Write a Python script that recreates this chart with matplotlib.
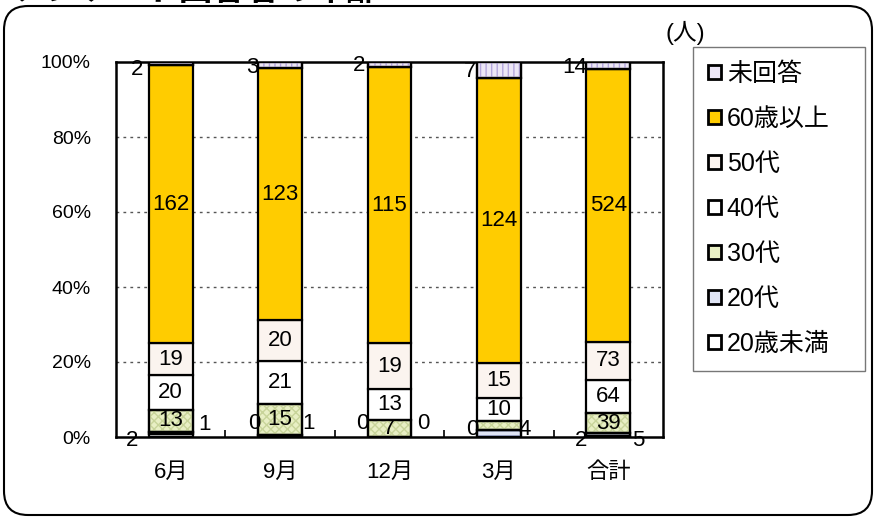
import matplotlib
matplotlib.use("Agg")
import matplotlib.pyplot as plt
import matplotlib.patches as mpatches
import numpy as np

plt.rcParams['font.family'] = ['Liberation Sans', 'Noto Sans CJK JP', 'DejaVu Sans']
plt.rcParams['hatch.linewidth'] = 1.0

months = ["6月", "9月", "12月", "3月", "合計"]
groups = ["20歳未満", "20代", "30代", "40代", "50代", "60歳以上", "未回答"]
u20 = [2, 0, 0, 0, 2]
s20 = [1, 1, 0, 3, 5]
s30 = [13, 15, 7, 4, 39]
s40 = [20, 21, 13, 10, 64]
s50 = [19, 20, 19, 15, 73]
s60 = [162, 123, 115, 124, 524]
na = [2, 3, 2, 7, 14]

series = [u20, s20, s30, s40, s50, s60, na]
faces = ["white", "#dfe4f4", "#e8efc4", "white", "#fbf4ef", "#ffcc00", "#ece6f6"]
hatches = [None, "---", "xxxx", None, None, None, "|||"]
hatch_cols = [None, "#8c98c8", "#c8d49a", None, None, None, "#b4a6dc"]

fig = plt.figure(figsize=(8.77, 5.18), dpi=100)
ax = fig.add_axes([116 / 877, 81 / 518, 547 / 877, 375 / 518])

vals = np.array(series, dtype=float)
totals = vals.sum(axis=0)
shares = vals / totals
x = np.arange(len(months))
w = 0.4

bottom = np.zeros(len(months))
for i in range(len(groups)):
    ax.bar(x, shares[i], w, bottom=bottom, color=faces[i], edgecolor="black",
           linewidth=1.6, zorder=3)
    if hatches[i]:
        ax.bar(x, shares[i], w, bottom=bottom, fill=False, hatch=hatches[i],
               edgecolor=hatch_cols[i], linewidth=0, zorder=3.5)
        ax.bar(x, shares[i], w, bottom=bottom, fill=False, edgecolor="black",
               linewidth=1.6, zorder=3.6)
    bottom += shares[i]

fs = 16
cum = np.cumsum(shares, axis=0)
# centred labels for the big segments (30代..60歳以上)
for i in [2, 3, 4, 5]:
    for j in range(len(months)):
        if i == 2 and j == 3:
            continue
        mid = cum[i, j] - shares[i, j] / 2
        ax.text(x[j], mid, str(series[i][j]), ha="center", va="center",
                fontsize=fs, zorder=5)

# small segments placed beside the bar
left_dx = [-0.35, -0.24, -0.25, -0.24, -0.25]
left_y = [-0.008, 0.037, 0.037, 0.019, -0.008]
right_dx = [0.31, 0.26, 0.31, 0.24, 0.27]
right_y = [0.032, 0.037, 0.037, 0.019, -0.008]
top_dx = [-0.31, -0.25, -0.28, -0.26, -0.31]
top_y = [0.981, 0.985, 0.99, 0.975, 0.985]
for j in range(len(months)):
    ax.text(x[j] + left_dx[j], left_y[j], str(u20[j]), ha="center", va="center",
            fontsize=fs, zorder=5)
    rlab = s30[j] if j == 3 else s20[j]
    ax.text(x[j] + right_dx[j], right_y[j], str(rlab), ha="center", va="center",
            fontsize=fs, zorder=5)
    ax.text(x[j] + top_dx[j], top_y[j], str(na[j]), ha="center", va="center",
            fontsize=fs, zorder=5)

ax.set_xlim(-0.5, len(months) - 0.5)
ax.set_ylim(0, 1)
ax.set_yticks([0, 0.2, 0.4, 0.6, 0.8, 1.0])
ax.set_yticklabels(["0%", "20%", "40%", "60%", "80%", "100%"], fontsize=14)
ax.tick_params(axis="y", length=0, pad=18)
ax.set_xticks(x)
ax.set_xticklabels(months, fontsize=16)
ax.tick_params(axis="x", which="major", length=0, pad=18)
ax.set_xticks(np.arange(0.5, len(months) - 1, 1), minor=True)
ax.tick_params(axis="x", which="minor", direction="in", length=5, width=1.2)
for y in [0.2, 0.4, 0.6, 0.8]:
    ax.axhline(y, color="#555555", linestyle=(0, (2, 3)), linewidth=1.0, zorder=1)
for s in ax.spines.values():
    s.set_linewidth(1.8)

handles = [mpatches.Patch(facecolor=faces[i], edgecolor="black", linewidth=2.0)
           for i in range(len(groups))][::-1]
leg = fig.legend(handles, groups[::-1], loc="upper left", mode="expand",
                 bbox_to_anchor=(693 / 877, 1 - 367 / 518, 172 / 877, 320 / 518),
                 fontsize=18, frameon=True, fancybox=False, edgecolor="#555555",
                 handlelength=0.5, handleheight=0.5, handletextpad=0.25,
                 labelspacing=0.84, borderpad=0.6, borderaxespad=0)
leg.get_frame().set_linewidth(1.0)

fig.text(685 / 877, 1 - 33 / 518, "(人)", ha="center", va="center", fontsize=17)
fig.text(12 / 877, 1 + 0 / 518, "アンケート回答者の年齢", ha="left", va="baseline",
         fontsize=24, fontweight="bold")

frame = mpatches.FancyBboxPatch((4, 3), 868, 509,
                                boxstyle="round,pad=0,rounding_size=24",
                                transform=None, fill=False, linewidth=1.5,
                                edgecolor="black")
fig.add_artist(frame)

fig.savefig("out.png", dpi=100)
